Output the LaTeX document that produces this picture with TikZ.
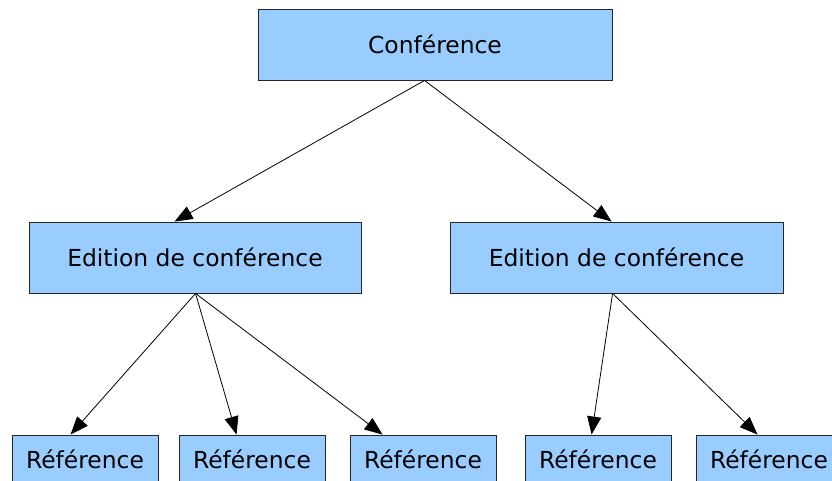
\documentclass[tikz,border=0pt]{standalone}
\usepackage{fontspec}
\setmainfont{DejaVu Sans}
\usetikzlibrary{arrows.meta,calc}
\definecolor{boxblue}{HTML}{99CCFF}
\begin{document}
\begin{tikzpicture}[x=1pt,y=-1pt,
  box/.style={draw=black!85,line width=0.9pt,fill=boxblue,rectangle,inner sep=0pt,
    minimum height=71pt,font=\fontsize{23.4}{28}\selectfont},
  conn/.style={line width=0.8pt,-{Triangle[length=18pt,width=14pt]}}]
\useasboundingbox (0,0) rectangle (832,480);
\begin{scope}
\clip (0,0) rectangle (832,480);
\node[box,minimum width=354pt] (top) at (435,44.5) {Conférence};
\node[box,minimum width=332pt] (ml) at (195,257.5) {Edition de conférence};
\node[box,minimum width=333pt] (mr) at (616.5,257.5) {Edition de conférence};
\node[box,minimum width=146pt] (b1) at (85,470.5) {};
\node[box,minimum width=146pt] (b2) at (252,470.5) {};
\node[box,minimum width=146pt] (b3) at (423,470.5) {};
\node[box,minimum width=146pt] (b4) at (598,470.5) {};
\node[box,minimum width=146pt] (b5) at (769,470.5) {};
\end{scope}
\foreach \b in {b1,b2,b3,b4,b5}
  \node[font=\fontsize{23.4}{28}\selectfont,anchor=base] at ($(\b.north)+(0,33.5)$) {Référence};
\coordinate (ts) at ($(top.south west)+(167,0)$);
\coordinate (mls) at ($(ml.south west)+(167,0)$);
\coordinate (mrs) at ($(mr.south west)+(163,0)$);
\draw[conn] (ts) -- ($(ml.north west)+(146,0)$);
\draw[conn] (ts) -- ($(mr.north west)+(162,0)$);
\draw[conn] (mls) -- ($(b1.north west)+(59,0)$);
\draw[conn] (mls) -- ($(b2.north west)+(58,0)$);
\draw[conn] (mls) -- ($(b3.north west)+(33,0)$);
\draw[conn] (mrs) -- ($(b4.north west)+(67,0)$);
\draw[conn] (mrs) -- ($(b5.north west)+(62,0)$);
\end{tikzpicture}
\end{document}
